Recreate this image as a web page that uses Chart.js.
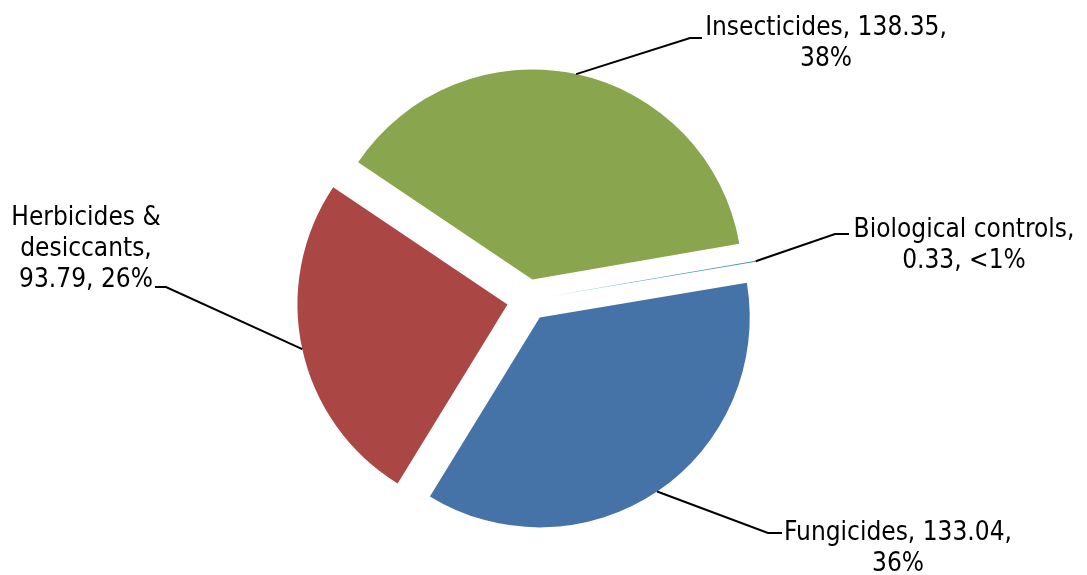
<!DOCTYPE html>
<html>
<head>
<meta charset="utf-8">
<script src="https://cdn.jsdelivr.net/npm/chart.js@4"></script>
<style>
  html, body { margin: 0; padding: 0; background: #ffffff; }
  #wrap { width: 1087px; height: 575px; position: relative; }
</style>
</head>
<body>
<div id="wrap"><canvas id="c" width="1087" height="575"></canvas></div>
<script>
// ---- data ----
const categories = ['Fungicides', 'Herbicides & desiccants', 'Insecticides', 'Biological controls'];
const values = [133.04, 93.79, 138.35, 0.33];
const percentLabels = ['36%', '26%', '38%', '<1%'];
const valueLabels = ['133.04', '93.79', '138.35', '0.33'];

// ---- styles / layout ----
const colors = ['#4572A7', '#AA4643', '#89A54E', '#4198AF'];
const EXPLODE = 21;
const FONT = '26px "DejaVu Sans Condensed", "DejaVu Sans", sans-serif';
const LINE_H = 31;
// label text lines (built from data) and placement
const labelText = [
  [categories[0] + ', ' + valueLabels[0] + ',', percentLabels[0]],
  ['Herbicides &', 'desiccants,', valueLabels[1] + ', ' + percentLabels[1]],
  [categories[2] + ', ' + valueLabels[2] + ',', percentLabels[2]],
  [categories[3] + ',', valueLabels[3] + ', ' + percentLabels[3]]
];
const labelLayout = [
  { cx: 898, y: 540, elbow: [768, 533], end: [782, 533] },
  { cx: 86,  y: 225, elbow: [166, 287], end: [155, 287] },
  { cx: 826, y: 35,  elbow: [690, 38],  end: [702, 38] },
  { cx: 964, y: 237, elbow: [835, 234], end: [849, 234] }
];

const explodePlugin = {
  id: 'explode',
  beforeDatasetsDraw(chart) {
    const ca = chart.chartArea;
    const cx = (ca.left + ca.right) / 2;
    const cy = (ca.top + ca.bottom) / 2;
    chart.getDatasetMeta(0).data.forEach(el => {
      const mid = (el.startAngle + el.endAngle) / 2;
      el.x = cx + Math.cos(mid) * EXPLODE;
      el.y = cy + Math.sin(mid) * EXPLODE;
    });
  }
};

const labelPlugin = {
  id: 'pieLabels',
  afterDatasetsDraw(chart) {
    const ctx = chart.ctx;
    const arcs = chart.getDatasetMeta(0).data;
    ctx.save();
    arcs.forEach((el, i) => {
      const L = labelLayout[i];
      const mid = (el.startAngle + el.endAngle) / 2;
      const sx = el.x + Math.cos(mid) * el.outerRadius;
      const sy = el.y + Math.sin(mid) * el.outerRadius;
      ctx.strokeStyle = '#000000';
      ctx.lineWidth = 2;
      ctx.beginPath();
      ctx.moveTo(sx, sy);
      ctx.lineTo(L.elbow[0], L.elbow[1]);
      ctx.lineTo(L.end[0], L.end[1]);
      ctx.stroke();
      ctx.fillStyle = '#000000';
      ctx.font = FONT;
      ctx.textAlign = 'center';
      ctx.textBaseline = 'alphabetic';
      labelText[i].forEach((t, k) => {
        ctx.fillText(t, L.cx, L.y + k * LINE_H);
      });
    });
    ctx.restore();
  }
};

new Chart(document.getElementById('c'), {
  type: 'pie',
  data: {
    labels: categories,
    datasets: [{
      data: values,
      backgroundColor: colors,
      borderWidth: 0,
      hoverOffset: 0
    }]
  },
  options: {
    responsive: false,
    animation: false,
    rotation: 80.5,
    layout: { padding: { top: 90, bottom: 65, left: 318, right: 349 } },
    plugins: {
      legend: { display: false },
      tooltip: { enabled: false }
    },
    events: []
  },
  plugins: [explodePlugin, labelPlugin]
});
</script>
</body>
</html>
